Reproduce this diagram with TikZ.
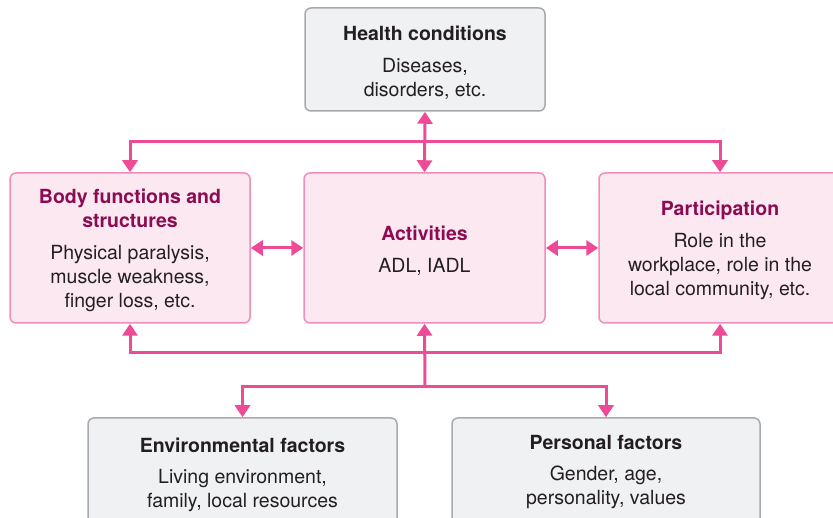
\documentclass[tikz,border=0pt]{standalone}
\usepackage{fontspec}
\setmainfont{TeX Gyre Heros}
\usetikzlibrary{arrows.meta}
\definecolor{linkpink}{HTML}{EE4B97}
\definecolor{pinkfill}{HTML}{FCE8F1}
\definecolor{pinkedge}{HTML}{F18DBB}
\definecolor{greyfill}{HTML}{F0F1F3}
\definecolor{greyedge}{HTML}{A8A9AC}
\definecolor{titlemag}{HTML}{8C0B52}
\definecolor{bodytext}{HTML}{231F20}
\newcommand{\boxhead}[2][bodytext]{\rule{0pt}{20pt}\textcolor{#1}{\textbf{#2}}}
\newcommand{\pinktitle}[1]{\textcolor{titlemag}{\textbf{#1}}}
\begin{document}
\begin{tikzpicture}[x=1pt,y=-1pt,
    greybox/.style={draw=greyedge,fill=greyfill,line width=1.5pt,rounded corners=6pt,
      align=center,inner sep=0pt,text=bodytext,font=\fontsize{19.5}{24}\selectfont},
    pinkbox/.style={greybox,draw=pinkedge,fill=pinkfill},
    link/.style={draw=linkpink,line width=3pt},
    tip/.tip={Triangle[width=15pt,length=12pt]}]
    \useasboundingbox (0,0) rectangle (833,518);
    \clip (0,0) rectangle (833,518);
    \node[greybox,minimum width=240pt,minimum height=103pt] (hc) at (425,59.5)
      {\boxhead{Health conditions}\\[8pt]Diseases,\\disorders, etc.};
    \node[pinkbox,minimum width=240pt,minimum height=150pt] (bs) at (130,248)
      {\boxhead[titlemag]{Body functions and}\\\pinktitle{structures}\\[8pt]Physical paralysis,\\muscle weakness,\\finger loss, etc.};
    \node[pinkbox,minimum width=241pt,minimum height=150pt] (ac) at (424.5,248)
      {\boxhead[titlemag]{Activities}\\[8pt]ADL, IADL};
    \node[pinkbox,minimum width=242pt,minimum height=150pt] (pa) at (720,248)
      {\boxhead[titlemag]{Participation}\\[8pt]Role in the\\workplace, role in the\\local community, etc.};
    \node[greybox,minimum width=309pt,minimum height=108pt] (ef) at (242.5,472)
      {\boxhead{Environmental factors}\\[7pt]Living environment,\\family, local resources};
    \node[greybox,minimum width=308pt,minimum height=108pt] (pf) at (606,472)
      {\textbf{Personal factors}\\[7pt]Gender, age,\\personality, values};
    \coordinate (topbus) at (425,142);
    \coordinate (botbus) at (425,353);
    \coordinate (split) at (425,387);
    % links between the boxes
    \draw[link,tip-tip] (hc.south) to (ac.north);
    \draw[link,tip-tip] (bs.north) |- (topbus) -| (pa.north);
    \draw[link,tip-tip] (bs.south) |- (botbus) -| (pa.south);
    \draw[link,tip-tip] (bs.east) to (ac.west);
    \draw[link,tip-tip] (ac.east) to (pa.west);
    \draw[link,tip-] (ac.south) to (split);
    \draw[link,-tip] (split) -| (ef.north);
    \draw[link,-tip] (split) -| (pf.north);
  \end{tikzpicture}
\end{document}
